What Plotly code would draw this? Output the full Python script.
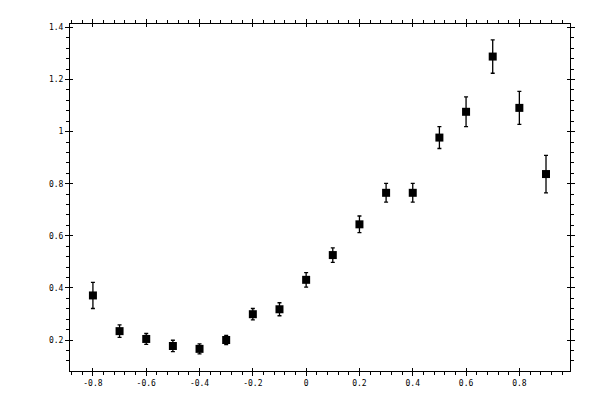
import plotly.graph_objects as go

x_vals = [-0.8, -0.7, -0.6, -0.5, -0.4, -0.3, -0.2, -0.1, 0.0, 0.1, 0.2, 0.3, 0.4, 0.5, 0.6, 0.7, 0.8, 0.9]
y_vals = [0.371, 0.234, 0.204, 0.177, 0.166, 0.200, 0.299, 0.318, 0.431, 0.526, 0.644, 0.765, 0.765, 0.977, 1.076, 1.288, 1.091, 0.837]
y_err = [0.050, 0.024, 0.021, 0.022, 0.019, 0.018, 0.022, 0.025, 0.028, 0.028, 0.032, 0.036, 0.036, 0.042, 0.057, 0.064, 0.063, 0.072]

x_tickvals = [-0.8, -0.6, -0.4, -0.2, 0, 0.2, 0.4, 0.6, 0.8]
x_ticktext = ["-0.8", "-0.6", "-0.4", "-0.2", "0", "0.2", "0.4", "0.6", "0.8"]
y_tickvals = [0.2, 0.4, 0.6, 0.8, 1.0, 1.2, 1.4]
y_ticktext = ["0.2", "0.4", "0.6", "0.8", "1", "1.2", "1.4"]

x_range = [-0.886, 0.99]
y_range = [0.081, 1.413]

fig = go.Figure()
fig.add_trace(go.Scatter(
    x=x_vals, y=y_vals, mode="markers",
    marker=dict(symbol="square", size=8, color="black", line=dict(width=0)),
    error_y=dict(type="data", array=y_err, visible=True, color="black", thickness=1.3, width=2),
    showlegend=False, hoverinfo="skip",
))
# invisible trace for overlay axes (inside ticks)
fig.add_trace(go.Scatter(x=[x_range[0]], y=[y_range[0]], xaxis="x2", yaxis="y2",
                         mode="markers", marker=dict(opacity=0), showlegend=False, hoverinfo="skip"))

font = dict(family="DejaVu Sans Mono", size=8, color="black")

fig.update_layout(
    width=592, height=392,
    margin=dict(l=62, r=30, t=11, b=29),
    paper_bgcolor="white", plot_bgcolor="white",
    font=font,
    xaxis=dict(range=x_range, showgrid=False, zeroline=False,
               showline=True, linecolor="black", linewidth=1, mirror="ticks",
               ticks="outside", ticklen=4, tickwidth=1, tickcolor="black",
               tickvals=x_tickvals, ticktext=x_ticktext, tickfont=font,
               minor=dict(dtick=0.04, tick0=0, ticks="outside", ticklen=3, tickwidth=1, tickcolor="black")),
    yaxis=dict(range=y_range, showgrid=False, zeroline=False,
               showline=True, linecolor="black", linewidth=1, mirror="ticks",
               ticks="outside", ticklen=4, tickwidth=1, tickcolor="black",
               tickvals=y_tickvals, ticktext=y_ticktext, tickfont=font,
               minor=dict(dtick=0.04, tick0=0, ticks="outside", ticklen=3, tickwidth=1, tickcolor="black")),
    xaxis2=dict(range=x_range, overlaying="x", anchor="y2", showgrid=False, zeroline=False,
                showline=False, mirror="ticks", ticks="inside", ticklen=3, tickwidth=1,
                tickcolor="black", tickvals=x_tickvals, showticklabels=False),
    yaxis2=dict(range=y_range, overlaying="y", anchor="x2", showgrid=False, zeroline=False,
                showline=False, mirror="ticks", ticks="inside", ticklen=3, tickwidth=1,
                tickcolor="black", tickvals=y_tickvals, showticklabels=False),
)

fig.write_html("out.html")
